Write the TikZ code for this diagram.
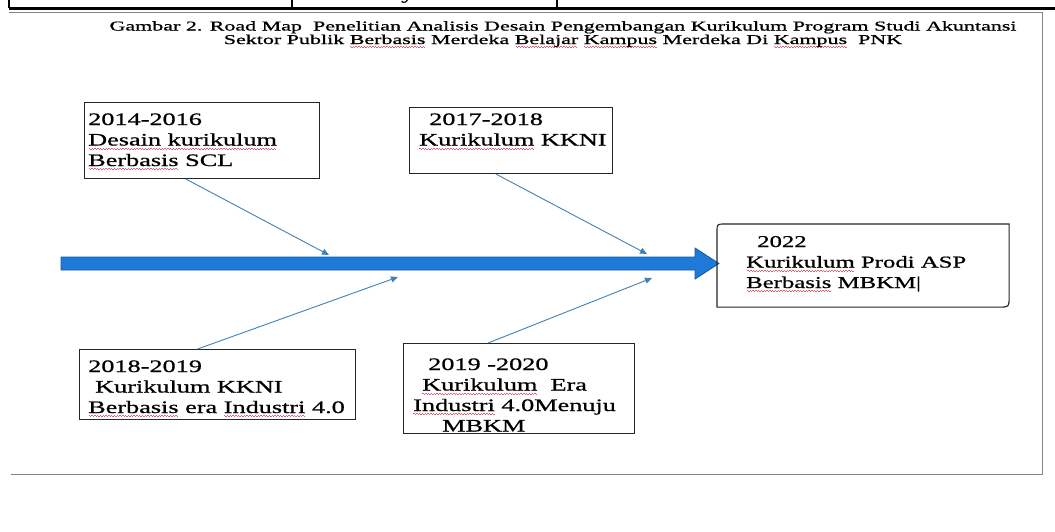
\documentclass[tikz,border=0pt]{standalone}
\usepackage{fontspec}
\setmainfont{Liberation Serif}[FakeStretch=1.5,FakeBold=0.8]
\newfontfamily\titlefont{Liberation Serif}[FakeStretch=1.63,FakeBold=1]
\usetikzlibrary{arrows.meta}
\usetikzlibrary{positioning}
\tikzset{>={Triangle[length=7pt,width=6pt]}}
\definecolor{feedColor}{RGB}{64,128,180}
\definecolor{barColor}{RGB}{30,122,214}
\definecolor{barEdge}{RGB}{22,88,165}
\definecolor{frameColor}{RGB}{125,135,145}
\definecolor{squiggle}{RGB}{225,95,115}
\colorlet{penColor}{black!85}

\newsavebox\spellbox
\newcommand\wave{\hbox{\textcolor{squiggle}{\rule{1.4pt}{0.7pt}\rule[-0.8pt]{1.4pt}{0.7pt}}}}
\newcommand\spell[1]{\sbox\spellbox{#1}\rlap{\lower3pt\hbox to \wd\spellbox{\cleaders\wave\hfill}}\usebox\spellbox}
\newcommand\lines[1]{\begin{tabular}[t]{@{}l@{}}#1\end{tabular}}

\begin{document}
\begin{tikzpicture}[x=1pt,y=-1pt,
    frame/.style={draw=penColor,line width=1.1pt,inner sep=0pt,anchor=north west},
    boxtext/.style={anchor=base west,inner sep=0pt,font=\fontsize{17.5}{20.5}\selectfont},
    titletext/.style={anchor=base,inner sep=0pt,font=\titlefont\fontsize{13.5}{15}\selectfont},
    feeder/.style={->,draw=feedColor,line width=0.9pt}]
\useasboundingbox (0,0) rectangle (1055,531);

% table strip at the top of the page
\draw[line width=1.5pt] (9,0) -- (9,8) (292,0) -- (292,8) (557,0) -- (557,8);
\draw[line width=3pt] (9,8) -- (1055,8);
\node[boxtext] (cut) at (401,-1) {y};
\draw[frameColor,line width=0.8pt] (9,12) -- (1042,12) -- (1042,474) -- (11,474);

% caption
\node[titletext] (cap1) at (563,30.5) {Gambar 2. Road Map\ \ Penelitian Analisis Desain Pengembangan Kurikulum Program Studi Akuntansi};
\node[titletext] (cap2) at (563,44) {Sektor Publik \spell{Berbasis} Merdeka \spell{Belajar} \spell{Kampus} Merdeka Di \spell{Kampus}\ \ PNK};

% main arrow
\fill[barColor,draw=barEdge,line width=0.8pt] (61,257) -- (695,257) -- (695,248) -- (719,263.5)
  -- (695,279) -- (695,270) -- (61,270) -- cycle;

% boxes
\node[frame,minimum width=235,minimum height=76] (f1) at (84,102) {};
\node[frame,minimum width=203,minimum height=66] (f2) at (409,107) {};
\node[frame,minimum width=276,minimum height=70] (f3) at (79,349) {};
\node[frame,minimum width=231,minimum height=90] (f4) at (403,343) {};
\node[frame,draw=none,minimum width=291,minimum height=82] (goal) at (717,224) {};
\draw[penColor,line width=1.1pt] (goal.south west) -- ([yshift=-8pt]goal.north west)
  .. controls (goal.north west) .. ([xshift=8pt]goal.north west) -- (goal.north east)
  -- ([yshift=10pt]goal.south east) .. controls (goal.south east) .. ([xshift=-10pt]goal.south east)
  -- cycle;

\node[boxtext] (t1) at (88,125) {\lines{2014-2016\\ \spell{Desain kurikulum}\\ \spell{Berbasis} SCL}};
\node[boxtext] (t2) at (419,125) {\lines{\hspace{10pt}2017-2018\\ \spell{Kurikulum} KKNI}};
\node[boxtext] (t3) at (88,372) {\lines{2018-2019\\ \hspace{7pt}Kurikulum KKNI\\ \spell{Berbasis} era \spell{Industri} 4.0}};
\node[boxtext] (t4) at (413,370) {\lines{\hspace{15pt}2019 -2020\\ \hspace{9pt}\spell{Kurikulum}\ \ Era\\ \spell{Industri} 4.0Menuju\\ \hspace{29pt}MBKM}};
\node[boxtext,font=\fontsize{16.5}{20.5}\selectfont] (t5) at (746,247) {\lines{\hspace{11pt}2022\\ \spell{Kurikulum} Prodi ASP\\ \spell{Berbasis} MBKM|}};

% feeders
\coordinate (hit1) at (329,255);
\coordinate (hit2) at (647,254);
\coordinate (hit3) at (398,277);
\coordinate (hit4) at (652,278);
\draw[feeder] ([xshift=-16pt]f1.south) -- (hit1);
\draw[feeder] ([xshift=-15pt]f2.south) -- (hit2);
\draw[feeder] ([xshift=-20pt]f3.north) -- (hit3);
\draw[feeder] ([xshift=-31pt]f4.north) -- (hit4);
\end{tikzpicture}
\end{document}
